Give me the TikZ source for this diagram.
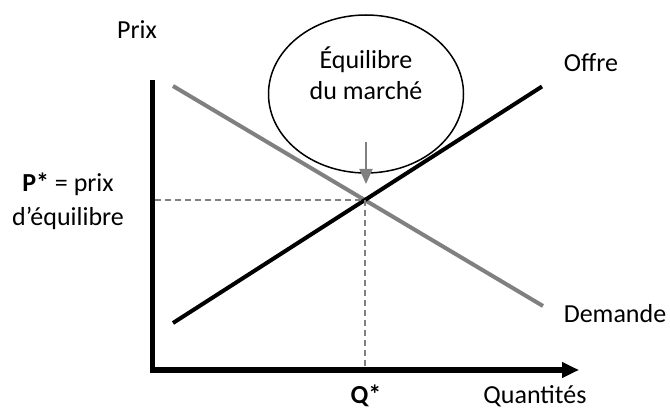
\documentclass[tikz,border=0pt]{standalone}
\usepackage{fontspec}
\setmainfont{Carlito}
\usetikzlibrary{arrows.meta,shapes.geometric}
\definecolor{linegray}{RGB}{128,128,128}
\tikzset{
  lbl/.style={font=\fontsize{26}{31}\selectfont, inner sep=0pt, anchor=base},
  axisline/.style={line width=5.5pt, black},
  offreline/.style={line width=4pt, black},
  demline/.style={line width=4pt, linegray},
  guide/.style={line width=1.5pt, linegray, dash pattern=on 6pt off 4pt},
}
\begin{document}
\begin{tikzpicture}[x=1pt,y=-1pt]
\useasboundingbox (0,0) rectangle (670,411);
% axes
\coordinate (ytop) at (152.5,80);
\coordinate (orig) at (152.5,370);
\coordinate (xend) at (579,370);
\draw[axisline] (ytop) -- (152.5,372.75);
\draw[axisline, -{Triangle[length=17pt,width=15pt]}] (149.75,370) -- (xend);
% curves
\coordinate (eq) at (365,200);
\coordinate (o1) at (173,323);
\coordinate (o2) at (542,86.5);
\coordinate (d1) at (173,86);
\coordinate (d2) at (543,306);
\draw[demline] (d1) -- (d2);
\draw[offreline] (o1) -- (o2);
% guides
\coordinate (py) at (155,200);
\coordinate (qx) at (365,368);
\draw[guide] (py) -- (eq);
\draw[guide] (eq) -- (qx);
% ellipse
\node[draw, line width=1.5pt, ellipse, minimum width=195pt, minimum height=158pt, inner sep=0pt] (ell) at (366,94) {};
\node[lbl] (eq1) at (366,69) {Équilibre};
\node[lbl] (eq2) at (366,100) {du marché};
% arrow
\coordinate (astart) at (366,142);
\coordinate (aend) at (366,184);
\draw[linegray, line width=2.2pt, -{Triangle[length=15pt,width=13pt]}] (astart) -- (aend);
% labels
\node[lbl] (prix) at (137,39) {Prix};
\node[lbl] (offre) at (591,72) {Offre};
\node[lbl] (dem) at (615,323) {Demande};
\node[lbl] (pstar) at (68,192) {\textbf{P*} = prix};
\node[lbl] (peq) at (68,226) {d’équilibre};
\node[lbl] (qstar) at (366,404) {\textbf{Q*}};
\node[lbl] (quant) at (535,404) {Quantités};
\end{tikzpicture}
\end{document}
